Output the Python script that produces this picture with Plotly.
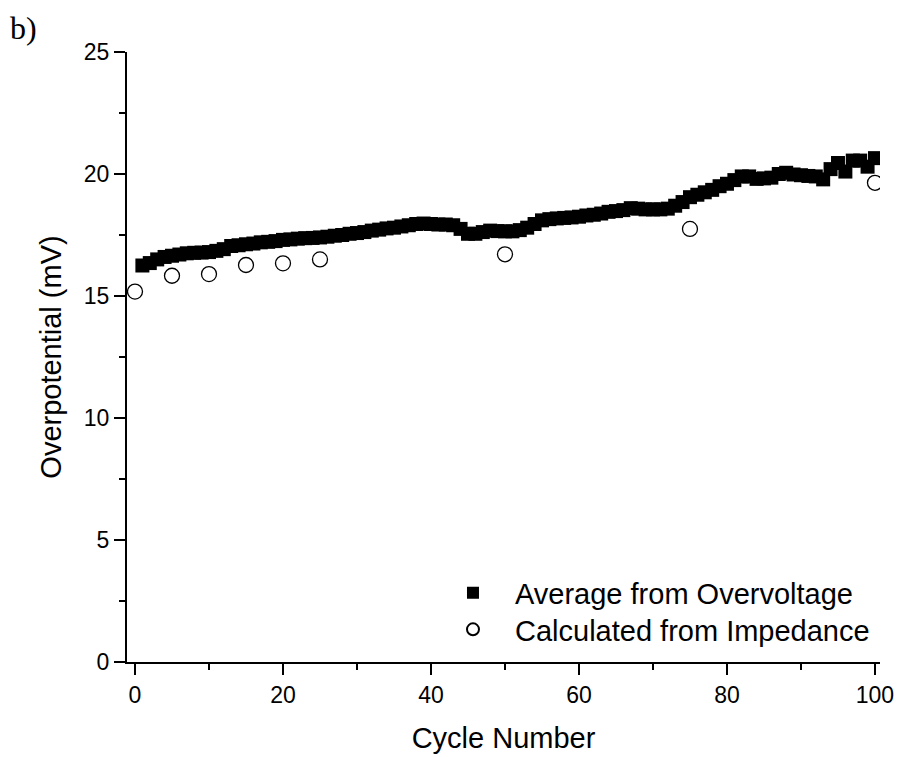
import plotly.graph_objects as go

# Overpotential vs. cycle number
cycles_avg = list(range(1, 101))
avg_overvoltage = [
    16.25, 16.35, 16.50, 16.60, 16.65, 16.70, 16.75, 16.77, 16.78, 16.80,
    16.85, 16.92, 17.05, 17.08, 17.12, 17.15, 17.20, 17.22, 17.25, 17.30,
    17.32, 17.35, 17.37, 17.38, 17.40, 17.43, 17.47, 17.50, 17.55, 17.58,
    17.62, 17.68, 17.72, 17.77, 17.80, 17.85, 17.90, 17.95, 17.97, 17.95,
    17.93, 17.93, 17.90, 17.75, 17.55, 17.55, 17.62, 17.68, 17.66, 17.65,
    17.65, 17.70, 17.80, 17.95, 18.10, 18.15, 18.18, 18.20, 18.22, 18.25,
    18.30, 18.33, 18.38, 18.45, 18.48, 18.52, 18.60, 18.58, 18.55, 18.55,
    18.55, 18.58, 18.70, 18.85, 19.05, 19.15, 19.25, 19.35, 19.50, 19.60,
    19.75, 19.90, 19.90, 19.80, 19.82, 19.85, 20.00, 20.05, 19.98, 19.95,
    19.92, 19.90, 19.78, 20.20, 20.45, 20.10, 20.55, 20.55, 20.30, 20.65,
]

cycles_imp = [0, 5, 10, 15, 20, 25, 50, 75, 100]
calc_impedance = [15.18, 15.83, 15.90, 16.27, 16.34, 16.50, 16.71, 17.75, 19.64]

x_ticks = [0, 20, 40, 60, 80, 100]
y_ticks = [0, 5, 10, 15, 20, 25]

SANS = "Liberation Sans, Arial, sans-serif"

fig = go.Figure()
fig.add_trace(go.Scatter(
    x=cycles_avg, y=avg_overvoltage, mode="markers",
    name="Average from Overvoltage", legend="legend",
    marker=dict(symbol="square", size=14, color="black", line=dict(width=0)),
))
fig.add_trace(go.Scatter(
    x=cycles_imp, y=calc_impedance, mode="markers",
    name="Calculated from Impedance", legend="legend2",
    marker=dict(symbol="circle", size=15, color="white",
                line=dict(width=1.3, color="black")),
))

axis_font = dict(family=SANS, size=23, color="black")
title_font = dict(family=SANS, size=29, color="black")
legend_common = dict(
    xanchor="left", yanchor="middle", itemwidth=74,
    font=dict(family=SANS, size=29, color="black"),
    bgcolor="rgba(0,0,0,0)", itemsizing="constant",
)

fig.update_layout(
    width=899, height=757,
    margin=dict(l=127, r=19, t=52, b=95),
    paper_bgcolor="white", plot_bgcolor="white",
    showlegend=True,
    legend=dict(x=0.4037, y=0.1131, **legend_common),
    legend2=dict(x=0.4037, y=0.0533, **legend_common),
    xaxis=dict(
        range=[-1.08, 100.68], tickvals=x_ticks, ticktext=[str(v) for v in x_ticks],
        showgrid=False, zeroline=False, showline=True, linecolor="black", linewidth=2,
        ticks="outside", ticklen=11, tickwidth=2, tickcolor="black",
        tickfont=axis_font, automargin=False,
        minor=dict(dtick=10, tick0=0, ticks="outside", ticklen=6, tickwidth=2,
                   tickcolor="black", showgrid=False),
        title=dict(text="Cycle Number", font=title_font, standoff=21),
    ),
    yaxis=dict(
        range=[0, 25], tickvals=y_ticks, ticktext=[str(v) for v in y_ticks],
        showgrid=False, zeroline=False, showline=True, linecolor="black", linewidth=2,
        ticks="outside", ticklen=11, tickwidth=2, tickcolor="black",
        tickfont=axis_font, automargin=False,
        minor=dict(dtick=2.5, tick0=0, ticks="outside", ticklen=6, tickwidth=2,
                   tickcolor="black", showgrid=False),
        title=dict(text="Overpotential (mV)", font=title_font, standoff=14),
    ),
)

# panel label
fig.add_annotation(
    text="b)", xref="paper", yref="paper",
    x=(8 - 127) / 753, y=1 + (52 - 8) / 610, xanchor="left", yanchor="top",
    showarrow=False,
    font=dict(family="Liberation Serif, Times New Roman, serif", size=32, color="black"),
)

fig.write_html("out.html")
